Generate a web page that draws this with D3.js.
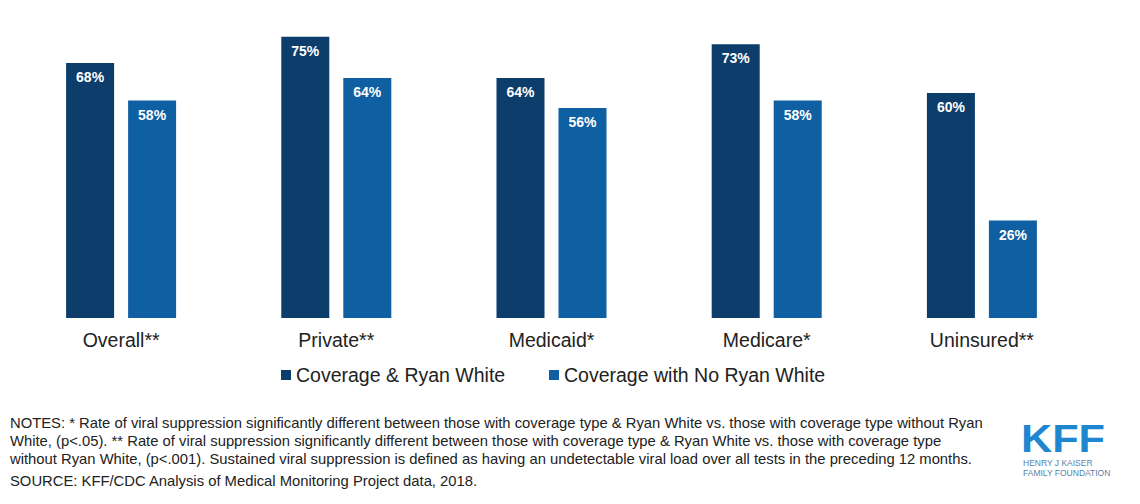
<!DOCTYPE html>
<html>
<head>
<meta charset="utf-8">
<script src="https://cdn.jsdelivr.net/npm/d3@7"></script>
<style>
  html, body { margin: 0; padding: 0; background: #fff; }
  svg { display: block; font-family: "Liberation Sans", Arial, sans-serif; }
</style>
</head>
<body>
<svg id="chart" width="1140" height="504"></svg>
<script>
// Sustained viral suppression by coverage type and Ryan White status
const categories = ["Overall**", "Private**", "Medicaid*", "Medicare*", "Uninsured**"];
const seriesNames = ["Coverage & Ryan White", "Coverage with No Ryan White"];
const withRyanWhite = [68, 75, 64, 73, 60];
const noRyanWhite = [58, 64, 56, 58, 26];
const notes = [
  "NOTES: * Rate of viral suppression significantly different between those with coverage type & Ryan White vs. those with coverage type without Ryan",
  "White, (p<.05). ** Rate of viral suppression significantly different between those with coverage type & Ryan White vs. those with coverage type",
  "without Ryan White, (p<.001). Sustained viral suppression is defined as having an undetectable viral load over all tests in the preceding 12 months."
];
const source = "SOURCE: KFF/CDC Analysis of Medical Monitoring Project data, 2018.";

const colors = ["#0c3d6b", "#0f5fa3"];
const svg = d3.select("#chart");

const baseline = 318;
const x = d3.scaleBand().domain(categories).range([13.5, 1089.5]).padding(0);
const y = d3.scaleLinear().domain([0, 100]).range([baseline, baseline - 375]);
const sub = d3.scaleBand().domain(seriesNames).range([-55, 55]).paddingInner(14 / 62).paddingOuter(0);

const rows = categories.map((c, i) => ({ cat: c, vals: [withRyanWhite[i], noRyanWhite[i]] }));

const groups = svg.selectAll("g.cat").data(rows).join("g")
  .attr("class", "cat")
  .attr("transform", d => `translate(${x(d.cat) + x.bandwidth() / 2},0)`);

groups.selectAll("rect").data(d => d.vals.map((v, j) => ({ v, s: seriesNames[j], j })))
  .join("rect")
  .attr("x", d => sub(d.s))
  .attr("width", sub.bandwidth())
  .attr("y", d => y(d.v))
  .attr("height", d => baseline - y(d.v))
  .attr("fill", d => colors[d.j]);

groups.selectAll("text.val").data(d => d.vals.map((v, j) => ({ v, s: seriesNames[j] })))
  .join("text")
  .attr("class", "val")
  .attr("x", d => sub(d.s) + sub.bandwidth() / 2)
  .attr("y", d => y(d.v) + 19)
  .attr("text-anchor", "middle")
  .attr("fill", "#fff")
  .attr("font-size", 14)
  .attr("font-weight", "bold")
  .text(d => d.v + "%");

// Category axis labels
const xAxis = d3.axisBottom(x).tickSize(0).tickPadding(15);
const axisG = svg.append("g").attr("transform", `translate(0,${baseline})`).call(xAxis);
axisG.select(".domain").remove();
axisG.selectAll("text")
  .attr("font-size", 19.5)
  .attr("font-family", "'Liberation Sans', Arial, sans-serif")
  .attr("fill", "#222");

// Legend
const legendX = [281, 549];
const legend = svg.selectAll("g.legend").data(seriesNames).join("g")
  .attr("class", "legend")
  .attr("transform", (d, i) => `translate(${legendX[i]},375)`);
legend.append("rect").attr("x", 0).attr("y", -5).attr("width", 10).attr("height", 10)
  .attr("fill", (d, i) => colors[i]);
legend.append("text").attr("x", 15).attr("y", 7)
  .attr("font-size", 19.5).attr("fill", "#222").text(d => d);

// Notes and source
const noteG = svg.append("g").attr("font-size", 14.8).attr("fill", "#222");
noteG.selectAll("text.note").data(notes).join("text")
  .attr("class", "note")
  .attr("x", 10)
  .attr("y", (d, i) => 428 + i * 18)
  .text(d => d);
noteG.append("text").attr("x", 10).attr("y", 486).text(source);

// KFF logo
const logo = svg.append("g").attr("transform", "translate(1023,0)");
logo.append("text").attr("x", -2).attr("y", 452)
  .attr("font-size", 39).attr("font-weight", "bold").attr("fill", "#1f86d0")
  .attr("font-family", "'Liberation Sans Narrow', 'Liberation Sans', Arial, sans-serif")
  .attr("textLength", 84).attr("lengthAdjust", "spacingAndGlyphs")
  .text("KFF");
logo.append("text").attr("x", 0).attr("y", 466)
  .attr("font-size", 8.5).attr("fill", "#5a7fa6").text("HENRY J KAISER");
logo.append("text").attr("x", 0).attr("y", 476)
  .attr("font-size", 8.5).attr("fill", "#5a7fa6").text("FAMILY FOUNDATION");
</script>
</body>
</html>
